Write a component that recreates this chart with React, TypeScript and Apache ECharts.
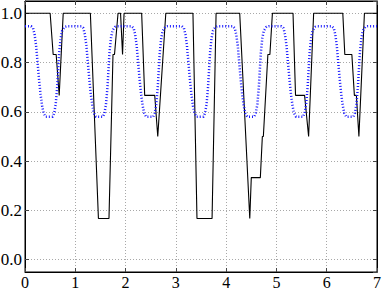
import React, { useEffect, useRef } from "react";
import * as echarts from "echarts";

// x axis ticks
const xTicks = [0, 1, 2, 3, 4, 5, 6, 7];
// y axis range (extends slightly beyond 0..1)
const yMin = -0.05;
const yMax = 1.05;

// Black solid step-like series [x, y]
const blackLine: [number, number][] = [
  [0, 1], [0.5, 1], [0.56, 0.833], [0.62, 0.833], [0.68, 0.667], [0.76, 1],
  [1.3, 1], [1.46, 0.167], [1.67, 0.167], [1.75, 0.833], [1.78, 0.833], [1.85, 1],
  [1.9, 1], [1.94, 0.833], [1.97, 1],
  [2.32, 1], [2.38, 0.667], [2.58, 0.667], [2.64, 0.5], [2.8, 1],
  [3.34, 1], [3.42, 0.167], [3.72, 0.167], [3.8, 1],
  [4.27, 1], [4.47, 0.167], [4.5, 0.333], [4.68, 0.333], [4.72, 0.5], [4.74, 0.5],
  [4.83, 0.833], [4.87, 0.833], [4.92, 1],
  [5.33, 1], [5.38, 0.667], [5.56, 0.667], [5.64, 0.5], [5.74, 1],
  [6.32, 1], [6.36, 0.833], [6.5, 0.833], [6.55, 0.667], [6.59, 0.667], [6.64, 0.5],
  [6.75, 1], [7, 1],
];

// Blue dotted periodic series [x, y]
const blueLine: [number, number][] = [
  [0, 0.948], [0.12, 0.948], [0.16, 0.94], [0.19, 0.915], [0.22, 0.87], [0.25, 0.8],
  [0.28, 0.73], [0.31, 0.67], [0.34, 0.625], [0.37, 0.595], [0.41, 0.58], [0.55, 0.58],
  [0.58, 0.595], [0.61, 0.63], [0.64, 0.7], [0.66, 0.77], [0.68, 0.84], [0.71, 0.9],
  [0.74, 0.93], [0.79, 0.945], [0.84, 0.948],
  [1.12, 0.948], [1.16, 0.94], [1.19, 0.915], [1.22, 0.87], [1.25, 0.8],
  [1.28, 0.73], [1.31, 0.67], [1.34, 0.625], [1.37, 0.595], [1.41, 0.58], [1.55, 0.58],
  [1.58, 0.595], [1.61, 0.63], [1.64, 0.7], [1.66, 0.77], [1.68, 0.84], [1.71, 0.9],
  [1.74, 0.93], [1.79, 0.945], [1.84, 0.948],
  [2.12, 0.948], [2.16, 0.94], [2.19, 0.915], [2.22, 0.87], [2.25, 0.8],
  [2.28, 0.73], [2.31, 0.67], [2.34, 0.625], [2.37, 0.595], [2.41, 0.58], [2.55, 0.58],
  [2.58, 0.595], [2.61, 0.63], [2.64, 0.7], [2.66, 0.77], [2.68, 0.84], [2.71, 0.9],
  [2.74, 0.93], [2.79, 0.945], [2.84, 0.948],
  [3.12, 0.948], [3.16, 0.94], [3.19, 0.915], [3.22, 0.87], [3.25, 0.8],
  [3.28, 0.73], [3.31, 0.67], [3.34, 0.625], [3.37, 0.595], [3.41, 0.58], [3.55, 0.58],
  [3.58, 0.595], [3.61, 0.63], [3.64, 0.7], [3.66, 0.77], [3.68, 0.84], [3.71, 0.9],
  [3.74, 0.93], [3.79, 0.945], [3.84, 0.948],
  [4.13, 0.948], [4.17, 0.94], [4.2, 0.915], [4.23, 0.87], [4.26, 0.8],
  [4.29, 0.73], [4.32, 0.67], [4.35, 0.625], [4.38, 0.595], [4.42, 0.58], [4.56, 0.58],
  [4.59, 0.595], [4.62, 0.63], [4.65, 0.7], [4.67, 0.77], [4.69, 0.84], [4.72, 0.9],
  [4.75, 0.93], [4.8, 0.945], [4.85, 0.948],
  [5.1, 0.948], [5.14, 0.94], [5.17, 0.915], [5.2, 0.87], [5.23, 0.8],
  [5.26, 0.73], [5.29, 0.67], [5.32, 0.625], [5.35, 0.595], [5.39, 0.58], [5.53, 0.58],
  [5.56, 0.595], [5.59, 0.63], [5.62, 0.7], [5.64, 0.77], [5.66, 0.84], [5.69, 0.9],
  [5.72, 0.93], [5.77, 0.945], [5.82, 0.948],
  [6.1, 0.948], [6.14, 0.94], [6.17, 0.915], [6.2, 0.87], [6.23, 0.8],
  [6.26, 0.73], [6.29, 0.67], [6.32, 0.625], [6.35, 0.595], [6.39, 0.58], [6.53, 0.58],
  [6.56, 0.595], [6.59, 0.63], [6.62, 0.7], [6.64, 0.77], [6.66, 0.84], [6.69, 0.9],
  [6.72, 0.93], [6.77, 0.945], [6.82, 0.948],
  [7, 0.948],
];

const FONT = "Liberation Serif";

export default function App() {
  const ref = useRef<HTMLDivElement>(null);
  useEffect(() => {
    if (!ref.current) return;
    const chart = echarts.init(ref.current, null, { renderer: "svg" });
    const gridLine = { show: true, lineStyle: { color: "#a8a8a8", type: [1, 2] as any, width: 1 } };
    const yFmt = (v: number) =>
      Math.abs(v * 5 - Math.round(v * 5)) < 1e-6 ? v.toFixed(1) : "";
    const labelText = {
      fontFamily: FONT,
      fontSize: 17,
      fontWeight: "normal",
      color: "#000",
    };
    chart.setOption({
      animation: false,
      backgroundColor: "#fff",
      textStyle: { fontFamily: FONT, fontSize: 17 },
      grid: {
        left: 25,
        right: 5,
        top: 1,
        bottom: 18,
        show: true,
        borderColor: "#000",
        borderWidth: 1,
        outerBoundsMode: "none",
      },
      xAxis: [
        {
          type: "value",
          min: xTicks[0],
          max: xTicks[xTicks.length - 1],
          interval: 1,
          axisLine: { show: true, onZero: false, lineStyle: { color: "#000", width: 1 } },
          axisTick: { show: true, inside: true, length: 4, lineStyle: { color: "#444" } },
          axisLabel: { ...labelText, fontSize: 16, margin: 2 },
          splitLine: gridLine,
        },
        {
          type: "value",
          position: "top",
          min: xTicks[0],
          max: xTicks[xTicks.length - 1],
          interval: 1,
          axisLine: { show: true, onZero: false, lineStyle: { color: "#000", width: 1 } },
          axisTick: { show: true, inside: true, length: 4, lineStyle: { color: "#444" } },
          axisLabel: { show: false },
          splitLine: { show: false },
        },
      ],
      yAxis: [
        {
          type: "value",
          min: yMin,
          max: yMax,
          splitNumber: 5,
          axisLine: { show: true, onZero: false, lineStyle: { color: "#000", width: 1 } },
          axisTick: { show: true, inside: true, length: 4, lineStyle: { color: "#444" } },
          axisLabel: {
            ...labelText,
            margin: 3,
            showMinLabel: false,
            showMaxLabel: false,
            formatter: yFmt,
          },
          splitLine: gridLine,
        },
        {
          type: "value",
          position: "right",
          min: yMin,
          max: yMax,
          splitNumber: 5,
          axisLine: { show: true, onZero: false, lineStyle: { color: "#000", width: 1 } },
          axisTick: { show: true, inside: true, length: 4, lineStyle: { color: "#444" } },
          axisLabel: { show: false },
          splitLine: { show: false },
        },
      ],
      series: [
        {
          type: "line",
          data: blackLine,
          xAxisIndex: 0,
          yAxisIndex: 0,
          showSymbol: false,
          symbol: "none",
          lineStyle: { color: "#000", width: 1.1 },
          z: 3,
        },
        {
          type: "line",
          data: blueLine,
          xAxisIndex: 0,
          yAxisIndex: 0,
          showSymbol: false,
          symbol: "none",
          lineStyle: { color: "#1a1aff", width: 2.5, type: [1, 2] as any },
          z: 4,
        },
      ],
    });
    return () => chart.dispose();
  }, []);
  return (
    <div
      ref={ref}
      style={{ position: "fixed", left: 0, top: 0, width: 382, height: 290, background: "#fff" }}
    />
  );
}
